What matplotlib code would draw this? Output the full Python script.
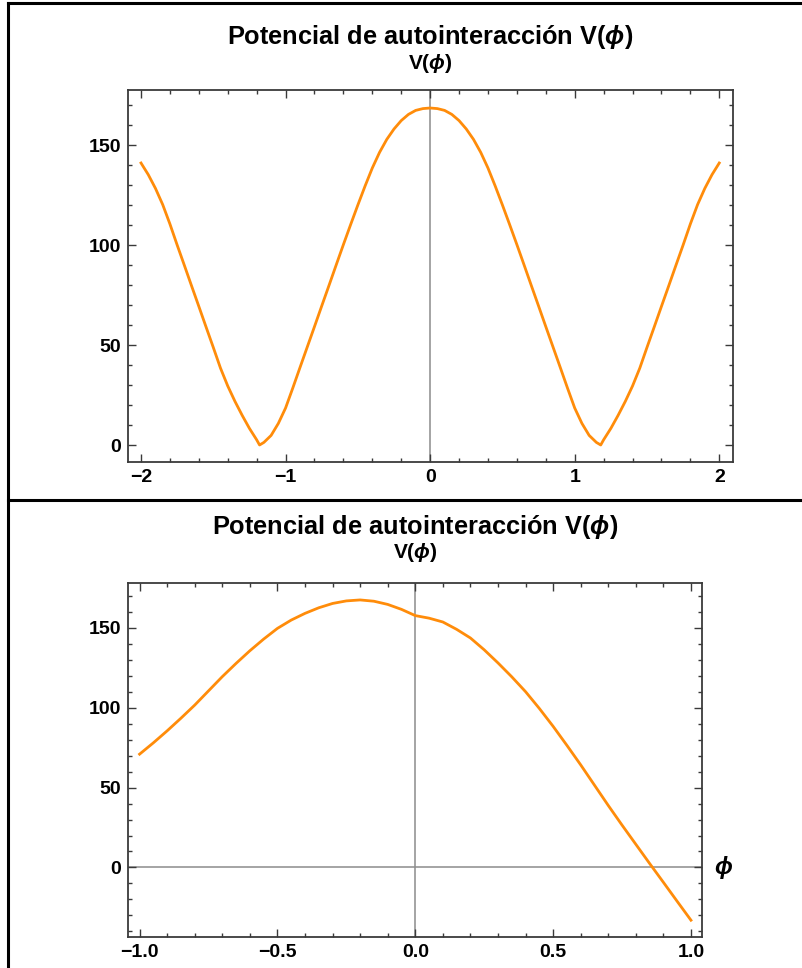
import numpy as np
import matplotlib.pyplot as plt
from matplotlib.lines import Line2D
from matplotlib.ticker import MultipleLocator

plt.rcParams['font.family'] = ['Liberation Sans', 'DejaVu Sans']
plt.rcParams['font.weight'] = 'bold'
plt.rcParams['mathtext.fontset'] = 'custom'
plt.rcParams['mathtext.rm'] = 'Liberation Sans:bold'
plt.rcParams['mathtext.it'] = 'Liberation Sans:bold:italic'
plt.rcParams['mathtext.bf'] = 'Liberation Sans:bold'

phi_1 = np.array([-2.0, -1.95, -1.9, -1.85, -1.8, -1.75, -1.7, -1.65, -1.6, -1.55,
                  -1.5, -1.45, -1.4, -1.35, -1.3, -1.25, -1.2, -1.18, -1.15, -1.1,
                  -1.05, -1.0, -0.95, -0.9, -0.85, -0.8, -0.75, -0.7, -0.65, -0.6,
                  -0.55, -0.5, -0.45, -0.4, -0.35, -0.3, -0.25, -0.2, -0.15, -0.1,
                  -0.05, 0.0, 0.05, 0.1, 0.15, 0.2, 0.25, 0.3, 0.35, 0.4,
                  0.45, 0.5, 0.55, 0.6, 0.65, 0.7, 0.75, 0.8, 0.85, 0.9,
                  0.95, 1.0, 1.05, 1.1, 1.15, 1.18, 1.2, 1.25, 1.3, 1.35,
                  1.4, 1.45, 1.5, 1.55, 1.6, 1.65, 1.7, 1.75, 1.8, 1.85,
                  1.9, 1.95, 2.0])
V_1 = np.array([141.0, 135.2, 128.3, 120.2, 110.5, 100.0, 89.8, 79.5, 69.3, 59.0,
                48.8, 38.4, 29.5, 21.8, 14.8, 8.3, 2.6, 0.0, 1.3, 4.8,
                10.8, 18.5, 28.5, 38.8, 49.0, 59.2, 69.5, 79.7, 90.0, 100.2,
                110.2, 120.0, 129.5, 138.5, 146.3, 152.8, 158.0, 162.2, 165.3, 167.3,
                168.2, 168.5, 168.2, 167.3, 165.3, 162.2, 158.0, 152.8, 146.3, 138.5,
                129.5, 120.0, 110.2, 100.2, 90.0, 79.7, 69.5, 59.2, 49.0, 38.8,
                28.5, 18.5, 10.8, 4.8, 1.3, 0.0, 2.6, 8.3, 14.8, 21.8,
                29.5, 38.4, 48.8, 59.0, 69.3, 79.5, 89.8, 100.0, 110.5, 120.2,
                128.3, 135.2, 141.0])

phi_2 = np.array([-1.0, -0.95, -0.9, -0.85, -0.8, -0.75, -0.7, -0.65, -0.6, -0.55,
                  -0.5, -0.45, -0.4, -0.35, -0.3, -0.25, -0.2, -0.15, -0.1, -0.05,
                  0.0, 0.05, 0.1, 0.15, 0.2, 0.25, 0.3, 0.35, 0.4, 0.45,
                  0.5, 0.55, 0.6, 0.65, 0.7, 0.75, 0.8, 0.85, 0.9, 0.95, 1.0])
V_2 = np.array([70.9, 78.0, 85.5, 93.4, 101.6, 110.5, 119.4, 127.7, 135.6, 142.9,
                149.6, 154.8, 159.0, 162.5, 165.2, 166.8, 167.4, 166.6, 164.6, 161.5,
                157.6, 156.0, 153.6, 149.0, 143.6, 136.2, 128.0, 119.3, 110.0, 99.5,
                88.3, 76.4, 64.2, 51.5, 38.8, 26.5, 14.5, 2.5, -9.3, -21.2, -33.0])

titulo = 'Potencial de autointeracción V($\\phi$)'
etiqueta_y = 'V($\\phi$)'

color_curva = '#ff8c0a'
color_marco = '#3a3a3a'
color_ejes = '#8c8c8c'

fig = plt.figure(figsize=(8.02, 9.68), dpi=100)
W, H = 802, 968


def caja(l, t, r, b):
    # convertir pixeles a fraccion de la figura
    return [l / W, 1 - b / H, (r - l) / W, (b - t) / H]


def estilo(ax, xmaj, xmin, ymaj, ymin):
    for s in ax.spines.values():
        s.set_color(color_marco)
        s.set_linewidth(1.3)
    ax.xaxis.set_major_locator(MultipleLocator(xmaj))
    ax.xaxis.set_minor_locator(MultipleLocator(xmin))
    ax.yaxis.set_major_locator(MultipleLocator(ymaj))
    ax.yaxis.set_minor_locator(MultipleLocator(ymin))
    ax.tick_params(which='both', direction='in', top=True, right=True,
                   color=color_marco, width=1.0, labelsize=14, pad=5)
    ax.tick_params(which='major', length=6)
    ax.tick_params(which='minor', length=3.2)
    for lab in ax.get_xticklabels() + ax.get_yticklabels():
        lab.set_fontweight('bold')


# Grafico superior
ax1 = fig.add_axes(caja(128, 90, 733, 462))
ax1.axvline(0, color=color_ejes, lw=1.1, zorder=1)
ax1.plot(phi_1, V_1, color=color_curva, lw=2.0, zorder=3)
ax1.set_xlim(-2.09, 2.095)
ax1.set_ylim(-8.5, 177.5)
estilo(ax1, 1, 0.2, 50, 10)
ax1.set_xticks([-2, -1, 0, 1, 2])
ax1.set_xticklabels(['\u22122', '\u22121', '0', '1', '2'])
fig.text(430 / W, 1 - 37 / H, titulo, ha='center', va='center', fontsize=18.3, fontweight='bold')
ax1.annotate(etiqueta_y, xy=(0, 1), xycoords=('data', 'axes fraction'),
             xytext=(0, 27 * 0.72), textcoords='offset points',
             ha='center', va='center', fontsize=15, fontweight='bold')

# Grafico inferior
ax2 = fig.add_axes(caja(128, 583, 702, 937))
ax2.axvline(0, color=color_ejes, lw=1.1, zorder=1)
ax2.axhline(0, color=color_ejes, lw=1.1, zorder=1)
ax2.plot(phi_2, V_2, color=color_curva, lw=2.0, zorder=3)
ax2.set_xlim(-1.042, 1.04)
ax2.set_ylim(-43.5, 178)
estilo(ax2, 0.5, 0.1, 50, 10)
ax2.set_xticks([-1.0, -0.5, 0.0, 0.5, 1.0])
ax2.set_xticklabels(['\u22121.0', '\u22120.5', '0.0', '0.5', '1.0'])
fig.text(415 / W, 1 - 527 / H, titulo, ha='center', va='center', fontsize=18.3, fontweight='bold')
ax2.annotate(etiqueta_y, xy=(0, 1), xycoords=('data', 'axes fraction'),
             xytext=(0, 30 * 0.72), textcoords='offset points',
             ha='center', va='center', fontsize=15, fontweight='bold')
ax2.annotate('$\\phi$', xy=(1, 0), xycoords=('axes fraction', 'data'),
             xytext=(22 * 0.72, 0), textcoords='offset points',
             ha='center', va='center', fontsize=17)

# Bordes negros de la imagen
bordes = [((8, 802), (3, 3)), ((8, 8), (3, 968)), ((8, 802), (500, 500))]
for xs, ys in bordes:
    fig.add_artist(Line2D([x / W for x in xs], [1 - y / H for y in ys],
                          color='black', lw=2.2))

fig.savefig('out.png', dpi=100)
